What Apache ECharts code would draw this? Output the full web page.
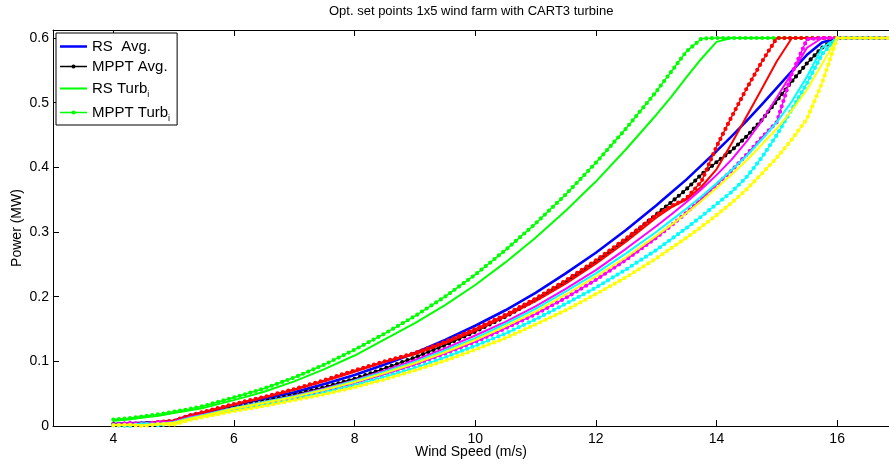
<!DOCTYPE html>
<html><head><meta charset="utf-8">
<script src="https://cdn.jsdelivr.net/npm/echarts@6/dist/echarts.min.js"></script>
<style>html,body{margin:0;padding:0;background:#fff}#c{width:889px;height:466px}</style>
</head><body><div id="c"></div>
<script>
const windSpeed = [4, 4.25, 4.5, 4.75, 5, 5.25, 5.5, 6, 6.5, 7, 7.5, 8, 8.5, 9, 9.5, 10, 10.5, 11, 11.5, 12, 12.5, 13, 13.25, 13.5, 13.75, 14, 14.25, 14.5, 14.75, 15, 15.25, 15.5, 15.75, 16, 16.5, 17];
// Power (MW)
const rsAvg    = [0.003, 0.004, 0.005, 0.006, 0.008, 0.016, 0.021, 0.032, 0.042, 0.052, 0.065, 0.079, 0.095, 0.113, 0.133, 0.155, 0.179, 0.206, 0.236, 0.268, 0.303, 0.341, 0.361, 0.381, 0.403, 0.425, 0.448, 0.472, 0.497, 0.523, 0.549, 0.574, 0.593, 0.6, 0.6, 0.6];
const mpptAvg  = [0.003, 0.003, 0.004, 0.005, 0.007, 0.013, 0.018, 0.028, 0.038, 0.048, 0.060, 0.073, 0.089, 0.106, 0.125, 0.146, 0.169, 0.195, 0.223, 0.254, 0.288, 0.327, 0.346, 0.366, 0.389, 0.408, 0.426, 0.448, 0.473, 0.503, 0.533, 0.561, 0.585, 0.6, 0.6, 0.6];
const rsTurb1  = [0.008, 0.010, 0.013, 0.016, 0.020, 0.024, 0.028, 0.040, 0.053, 0.069, 0.088, 0.109, 0.134, 0.159, 0.187, 0.218, 0.253, 0.291, 0.333, 0.378, 0.428, 0.481, 0.509, 0.539, 0.568, 0.594, 0.6, 0.6, 0.6, 0.6, 0.6, 0.6, 0.6, 0.6, 0.6, 0.6];
const mpptTurb1= [0.010, 0.012, 0.015, 0.018, 0.022, 0.026, 0.031, 0.044, 0.058, 0.075, 0.095, 0.118, 0.143, 0.170, 0.200, 0.234, 0.272, 0.313, 0.358, 0.407, 0.460, 0.517, 0.548, 0.579, 0.599, 0.6, 0.6, 0.6, 0.6, 0.6, 0.6, 0.6, 0.6, 0.6, 0.6, 0.6];
const rsTurb2  = [0.002, 0.003, 0.004, 0.006, 0.008, 0.015, 0.021, 0.033, 0.044, 0.056, 0.069, 0.084, 0.099, 0.111, 0.128, 0.147, 0.169, 0.193, 0.220, 0.251, 0.285, 0.322, 0.338, 0.350, 0.370, 0.397, 0.437, 0.479, 0.521, 0.564, 0.6, 0.6, 0.6, 0.6, 0.6, 0.6];
const mpptTurb2= [0.002, 0.004, 0.003, 0.006, 0.008, 0.016, 0.022, 0.034, 0.045, 0.057, 0.071, 0.086, 0.100, 0.113, 0.130, 0.150, 0.172, 0.197, 0.225, 0.256, 0.290, 0.326, 0.340, 0.352, 0.378, 0.432, 0.478, 0.522, 0.563, 0.6, 0.6, 0.6, 0.6, 0.6, 0.6, 0.6];
const rsTurb3  = [0.002, 0.003, 0.004, 0.005, 0.007, 0.013, 0.018, 0.028, 0.037, 0.047, 0.058, 0.071, 0.086, 0.102, 0.120, 0.140, 0.161, 0.185, 0.212, 0.241, 0.274, 0.309, 0.327, 0.346, 0.366, 0.388, 0.412, 0.440, 0.472, 0.508, 0.546, 0.585, 0.6, 0.6, 0.6, 0.6];
const mpptTurb3= [0.002, 0.005, 0.002, 0.006, 0.004, 0.012, 0.016, 0.025, 0.034, 0.043, 0.054, 0.066, 0.080, 0.095, 0.112, 0.130, 0.151, 0.173, 0.198, 0.226, 0.257, 0.291, 0.310, 0.330, 0.351, 0.373, 0.395, 0.420, 0.446, 0.470, 0.545, 0.598, 0.6, 0.6, 0.6, 0.6];
const rsTurb4  = [0.002, 0.001, 0.004, 0.003, 0.006, 0.012, 0.017, 0.028, 0.037, 0.046, 0.057, 0.070, 0.084, 0.099, 0.117, 0.136, 0.158, 0.181, 0.208, 0.236, 0.267, 0.300, 0.318, 0.336, 0.355, 0.375, 0.396, 0.418, 0.443, 0.470, 0.502, 0.540, 0.585, 0.6, 0.6, 0.6];
const mpptTurb4= [0.001, 0.000, 0.003, 0.001, 0.004, 0.010, 0.015, 0.025, 0.033, 0.042, 0.052, 0.063, 0.076, 0.090, 0.106, 0.124, 0.143, 0.165, 0.189, 0.214, 0.242, 0.272, 0.289, 0.306, 0.324, 0.343, 0.362, 0.385, 0.415, 0.450, 0.490, 0.530, 0.575, 0.6, 0.6, 0.6];
const rsTurb5  = [0.001, 0.002, 0.001, 0.003, 0.005, 0.011, 0.016, 0.027, 0.036, 0.045, 0.056, 0.068, 0.082, 0.097, 0.114, 0.133, 0.154, 0.177, 0.203, 0.231, 0.261, 0.294, 0.311, 0.329, 0.348, 0.368, 0.389, 0.411, 0.435, 0.460, 0.488, 0.520, 0.560, 0.6, 0.6, 0.6];
const mpptTurb5= [0.001, 0.002, 0.000, 0.003, 0.002, 0.009, 0.014, 0.023, 0.031, 0.040, 0.049, 0.060, 0.072, 0.086, 0.101, 0.118, 0.136, 0.157, 0.179, 0.204, 0.230, 0.259, 0.275, 0.291, 0.308, 0.326, 0.345, 0.366, 0.390, 0.415, 0.443, 0.475, 0.530, 0.6, 0.6, 0.6];

const xTickValues = [4, 6, 8, 10, 12, 14, 16];
const titleText = 'Opt. set points 1x5 wind farm with CART3 turbine';
const xName = 'Wind Speed (m/s)';
const yName = 'Power (MW)';
const legendNames = ['RS  Avg.', 'MPPT Avg.', 'RS Turb', 'MPPT Turb'];

const FONT = '"Liberation Sans", Arial, Helvetica, sans-serif';
const pairs = ys => windSpeed.map((v, i) => [v, ys[i]]);

function rsSeries(name, ys, color, width) {
  return { type: 'line', name, data: pairs(ys), symbol: 'none', color, silent: true,
    lineStyle: { color, width, join: 'round' } };
}
function mpptSeries(name, ys, color) {
  return [
    { type: 'line', name, data: pairs(ys), symbol: 'none', color, silent: true,
      lineStyle: { color, width: 1.4, join: 'round' } },
    { type: 'line', name: name + ' \u00b7', data: pairs(ys), symbol: 'none', color, silent: true,
      lineStyle: { color, width: 4.2, type: [0, 5.6], cap: 'round', join: 'round' } }
  ];
}

const series = [
  rsSeries(legendNames[0], rsAvg, '#0000ff', 2.6),
  ...mpptSeries(legendNames[1], mpptAvg, '#000000'),
  rsSeries(legendNames[2], rsTurb1, '#00ff00', 2),
  ...mpptSeries(legendNames[3], mpptTurb1, '#00ff00'),
  rsSeries('RS Turb 2', rsTurb2, '#ff0000', 2),
  ...mpptSeries('MPPT Turb 2', mpptTurb2, '#ff0000'),
  rsSeries('RS Turb 3', rsTurb3, '#ff00ff', 2),
  ...mpptSeries('MPPT Turb 3', mpptTurb3, '#ff00ff'),
  rsSeries('RS Turb 4', rsTurb4, '#00ffff', 2),
  ...mpptSeries('MPPT Turb 4', mpptTurb4, '#00ffff'),
  rsSeries('RS Turb 5', rsTurb5, '#ffff00', 2),
  ...mpptSeries('MPPT Turb 5', mpptTurb5, '#ffff00')
];

const rsIcon = t => 'path://M0,0L28,0L28,' + t + 'L0,' + t + 'Z';
const mpptIcon = 'path://M0,1.7L28,1.7L28,3.1L0,3.1Z M16.2,2.4L15.56,3.96L14,4.6L12.44,3.96L11.8,2.4L12.44,0.84L14,0.2L15.56,0.84Z';

const chart = echarts.init(document.getElementById('c'), null, { renderer: 'canvas' });
chart.setOption({
  animation: false,
  backgroundColor: '#fff',
  textStyle: { fontFamily: FONT },
  title: {
    text: titleText, left: 329, top: 5, padding: 0,
    textStyle: { fontSize: 13, fontWeight: 'normal', color: '#000', fontFamily: FONT }
  },
  grid: { left: 53, top: 30, right: 0, bottom: 40, outerBoundsMode: 'none', containLabel: false },
  legend: {
    orient: 'vertical', left: 56, top: 33,
    padding: [5, 7, 2, 4], itemGap: 3, itemWidth: 27, itemHeight: 5, itemTextGap: 0,
    backgroundColor: '#fff', borderColor: '#000', borderWidth: 1, borderRadius: 0,
    selectedMode: false,
    data: [
      { name: legendNames[0], icon: rsIcon(2.6) },
      { name: legendNames[1], icon: mpptIcon },
      { name: legendNames[2], icon: rsIcon(2.1) },
      { name: legendNames[3], icon: mpptIcon }
    ],
    formatter: n => (n.indexOf('Turb') >= 0 ? n + '{sub|i}' : n),
    textStyle: {
      fontSize: 15, lineHeight: 17, color: '#000', fontFamily: FONT,
      rich: { sub: { fontSize: 9, lineHeight: 10, color: '#000', fontFamily: FONT, padding: [12, 0, 0, 0] } }
    }
  },
  xAxis: [
    {
      type: 'value', min: 3, max: 16.86, position: 'bottom',
      name: xName, nameLocation: 'middle', nameGap: 19, nameMoveOverlap: false,
      nameTextStyle: { fontSize: 14, color: '#000', fontFamily: FONT },
      axisLine: { show: true, onZero: false, lineStyle: { color: '#000', width: 1 } },
      axisTick: { show: true, inside: true, length: 6, customValues: xTickValues, lineStyle: { color: '#000' } },
      axisLabel: { show: true, customValues: xTickValues, fontSize: 14, color: '#000', margin: 6, fontFamily: FONT },
      splitLine: { show: false }
    },
    {
      type: 'value', min: 3, max: 16.86, position: 'top',
      axisLine: { show: true, onZero: false, lineStyle: { color: '#000', width: 1 } },
      axisTick: { show: true, inside: true, length: 6, customValues: xTickValues, lineStyle: { color: '#000' } },
      axisLabel: { show: false },
      splitLine: { show: false }
    }
  ],
  yAxis: {
    type: 'value', min: 0, max: 0.6124, interval: 0.1,
    name: yName, nameLocation: 'middle', nameGap: 29, nameRotate: 90, nameMoveOverlap: false,
    nameTextStyle: { fontSize: 14, color: '#000', fontFamily: FONT },
    axisLine: { show: true, onZero: false, lineStyle: { color: '#000', width: 1 } },
    axisTick: { show: true, inside: true, length: 6, lineStyle: { color: '#000' } },
    axisLabel: { fontSize: 14, color: '#000', margin: 4, fontFamily: FONT,
      formatter: v => (Math.abs(v - Math.round(v * 10) / 10) < 1e-6 ? String(Math.round(v * 10) / 10) : '') },
    splitLine: { show: false }
  },
  series
});
</script></body></html>
